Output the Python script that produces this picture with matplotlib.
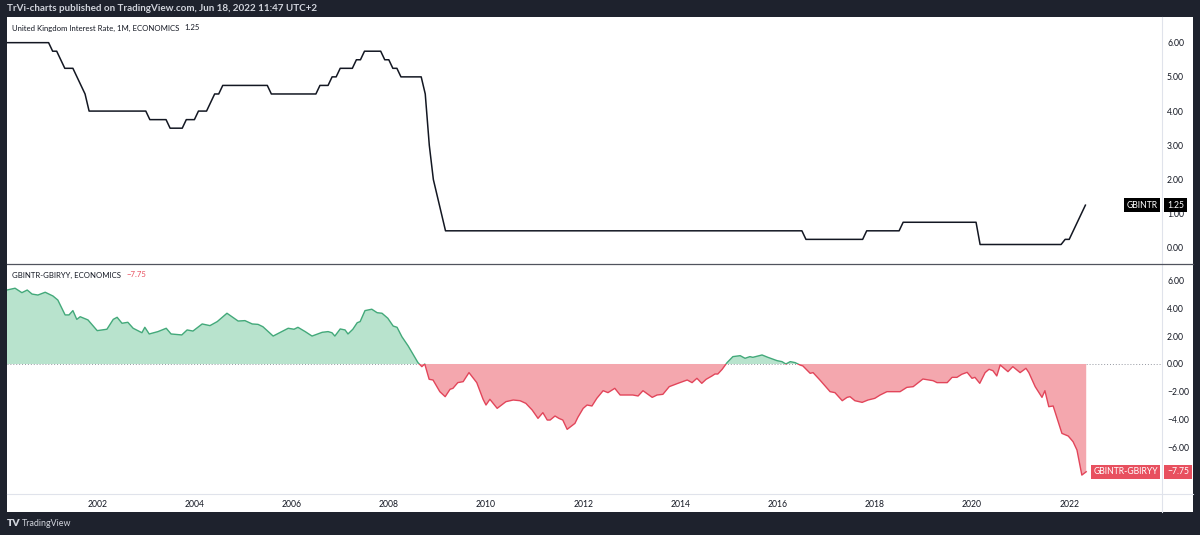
import matplotlib as mpl
import matplotlib.pyplot as plt
import numpy as np
import pandas as pd
from matplotlib.lines import Line2D
from matplotlib.patches import Rectangle
from matplotlib.ticker import FixedLocator, FuncFormatter

mpl.rcParams.update({
    "font.family": ["Lato", "DejaVu Sans"],
    "axes.unicode_minus": True,
})

# ---- data -----------------------------------------------------------------
# UK bank rate: month of change -> new rate (monthly series, ECONOMICS 1M)
RATE_CHANGE_MONTHS = [
    "2000-01", "2001-02", "2001-04", "2001-05", "2001-08", "2001-09", "2001-10",
    "2001-11", "2003-02", "2003-07", "2003-11", "2004-02", "2004-05", "2004-06",
    "2004-08", "2005-08", "2006-08", "2006-11", "2007-01", "2007-05", "2007-07",
    "2007-12", "2008-02", "2008-04", "2008-10", "2008-11", "2008-12", "2009-01",
    "2009-02", "2009-03", "2016-08", "2017-11", "2018-08", "2020-03", "2021-12",
    "2022-02", "2022-03", "2022-04", "2022-05",
]
RATE_VALUES = [
    6.00, 5.75, 5.50, 5.25, 5.00, 4.75, 4.50,
    4.00, 3.75, 3.50, 3.75, 4.00, 4.25, 4.50,
    4.75, 4.50, 4.75, 5.00, 5.25, 5.50, 5.75,
    5.50, 5.25, 5.00, 4.50, 3.00, 2.00, 1.50,
    1.00, 0.50, 0.25, 0.50, 0.75, 0.10, 0.25,
    0.50, 0.75, 1.00, 1.25,
]
RATE_LAST_MONTH = "2022-05"

SPREAD_T = [
    2000.14, 2000.31, 2000.45, 2000.56, 2000.66, 2000.78, 2000.93, 2001.09,
    2001.19, 2001.34, 2001.42, 2001.50, 2001.58, 2001.65, 2001.81, 2002.00,
    2002.20, 2002.33, 2002.41, 2002.51, 2002.63, 2002.74, 2002.92, 2002.98,
    2003.07, 2003.25, 2003.42, 2003.52, 2003.74, 2003.85, 2003.97, 2004.16,
    2004.32, 2004.47, 2004.67, 2004.90, 2005.04, 2005.19, 2005.31, 2005.41,
    2005.62, 2005.80, 2005.93, 2006.05, 2006.13, 2006.28, 2006.42, 2006.63,
    2006.75, 2006.83, 2006.89, 2007.00, 2007.10, 2007.16, 2007.26, 2007.35,
    2007.41, 2007.51, 2007.65, 2007.76, 2007.86, 2007.98, 2008.09, 2008.17,
    2008.27, 2008.40, 2008.60, 2008.68, 2008.74, 2008.83, 2008.91, 2009.05,
    2009.16, 2009.26, 2009.32, 2009.42, 2009.53, 2009.65, 2009.81, 2009.94,
    2010.00, 2010.08, 2010.23, 2010.41, 2010.56, 2010.70, 2010.82, 2010.95,
    2011.07, 2011.17, 2011.26, 2011.32, 2011.42, 2011.50, 2011.58, 2011.67,
    2011.83, 2011.89, 2012.00, 2012.08, 2012.18, 2012.28, 2012.41, 2012.51,
    2012.65, 2012.76, 2013.02, 2013.13, 2013.23, 2013.42, 2013.52, 2013.64,
    2013.77, 2013.95, 2014.14, 2014.24, 2014.34, 2014.44, 2014.53, 2014.65,
    2014.71, 2014.77, 2014.86, 2014.96, 2015.08, 2015.23, 2015.33, 2015.43,
    2015.49, 2015.68, 2015.80, 2015.99, 2016.09, 2016.17, 2016.26, 2016.36,
    2016.46, 2016.52, 2016.67, 2016.73, 2016.87, 2017.08, 2017.18, 2017.33,
    2017.43, 2017.49, 2017.59, 2017.74, 2017.86, 2018.00, 2018.11, 2018.25,
    2018.52, 2018.66, 2018.79, 2018.99, 2019.20, 2019.28, 2019.49, 2019.59,
    2019.69, 2019.79, 2019.90, 2020.00, 2020.06, 2020.16, 2020.27, 2020.35,
    2020.43, 2020.51, 2020.58, 2020.74, 2020.84, 2020.99, 2021.11, 2021.17,
    2021.30, 2021.44, 2021.50, 2021.58, 2021.67, 2021.85, 2021.98, 2022.08,
    2022.16, 2022.26, 2022.35,
]
SPREAD_V = [
    5.32, 5.45, 5.13, 5.32, 5.03, 4.96, 5.16, 4.89,
    4.60, 3.53, 3.53, 3.84, 3.21, 3.40, 3.17, 2.40,
    2.50, 3.21, 3.36, 2.93, 3.00, 2.57, 2.25, 2.64,
    2.16, 2.33, 2.57, 2.16, 2.09, 2.45, 2.37, 2.88,
    2.76, 3.05, 3.65, 3.09, 3.12, 2.88, 2.85, 2.68,
    2.01, 2.33, 2.57, 2.50, 2.64, 2.33, 2.01, 2.28,
    2.33, 2.25, 2.01, 2.52, 2.45, 2.16, 2.50, 2.97,
    3.05, 3.84, 3.94, 3.69, 3.65, 3.29, 2.73, 2.64,
    1.96, 1.29, 0.10, -0.19, 0.00, -1.10, -1.15, -1.99,
    -2.35, -1.82, -1.75, -1.34, -1.27, -0.62, -1.34, -2.54,
    -2.95, -2.54, -3.19, -2.71, -2.59, -2.64, -2.83, -3.31,
    -3.91, -3.50, -4.03, -4.03, -3.74, -3.91, -4.03, -4.70,
    -4.27, -3.84, -3.19, -2.95, -3.02, -2.47, -1.92, -2.06,
    -1.75, -2.23, -2.23, -2.30, -1.92, -2.40, -2.23, -2.18,
    -1.63, -1.39, -1.15, -1.34, -1.03, -1.39, -1.10, -0.86,
    -0.72, -0.72, -0.38, 0.10, 0.53, 0.60, 0.41, 0.53,
    0.48, 0.65, 0.48, 0.24, 0.17, 0.00, 0.17, 0.10,
    -0.07, -0.14, -0.67, -0.62, -1.15, -1.99, -2.06, -2.64,
    -2.40, -2.35, -2.64, -2.76, -2.59, -2.47, -2.23, -1.99,
    -1.99, -1.68, -1.63, -1.08, -1.20, -1.34, -1.34, -0.96,
    -0.96, -0.74, -0.60, -1.03, -0.96, -1.39, -0.62, -0.38,
    -0.48, -0.86, -0.07, -0.55, -0.19, -0.62, -0.31, -0.62,
    -1.63, -2.40, -1.92, -3.07, -3.02, -4.99, -5.18, -5.59,
    -6.19, -7.99, -7.75,
]

YEAR_TICKS = [2002, 2004, 2006, 2008, 2010, 2012, 2014, 2016, 2018, 2020, 2022]
TOP_TICKS = [0, 1, 2, 3, 4, 5, 6]
BOT_TICKS = [-6, -4, -2, 0, 2, 4, 6]

# ---- style ----------------------------------------------------------------
DARK = "#1e222d"
INK = "#131722"
AXIS_LINE = "#e0e3eb"
GREEN_LINE = "#43a97a"
GREEN_FILL = "#b8e3cd"
RED_LINE = "#e2455a"
RED_FILL = "#f4a7ae"
RED_TAG = "#e8505f"
FS = 6.2
FS_LEGEND = 5.6

W, H = 1200, 535


def fx(px):
    return px / W


def fy(py):
    return 1 - py / H


# monthly rate series
months = pd.period_range(RATE_CHANGE_MONTHS[0], RATE_LAST_MONTH, freq="M")
rate = (pd.Series(RATE_VALUES, index=pd.PeriodIndex(RATE_CHANGE_MONTHS, freq="M"))
        .reindex(months).ffill())
rate_t = months.year + (months.month - 1) / 12.0

spread_t = np.array(SPREAD_T)
spread_v = np.array(SPREAD_V)

fig = plt.figure(figsize=(W / 100, H / 100), dpi=100, facecolor=DARK)
fig.add_artist(Rectangle((fx(7), fy(512)), fx(1193) - fx(7), fy(17) - fy(512),
                         transform=fig.transFigure, facecolor="white",
                         edgecolor="none", zorder=0))

ax_top = fig.add_axes([fx(7), fy(264), fx(1162) - fx(7), fy(17) - fy(264)])
ax_bot = fig.add_axes([fx(7), fy(494), fx(1162) - fx(7), fy(265) - fy(494)],
                      sharex=ax_top)

xlim = (2000 + 7 / 48.6, 2000 + 1162 / 48.6)
fmt = FuncFormatter(lambda v, _: f"{v:.2f}".replace("-", "\u2212"))
for ax in (ax_top, ax_bot):
    ax.set_facecolor("white")
    for s in ax.spines.values():
        s.set_visible(False)
    ax.yaxis.tick_right()
    ax.yaxis.set_major_formatter(fmt)
    ax.tick_params(axis="y", length=0, pad=3.6, labelsize=FS, labelcolor=INK)
    ax.tick_params(axis="x", length=0, pad=4.5, labelsize=FS, labelcolor=INK)
    ax.set_xlim(*xlim)

ax_top.set_ylim(-0.47, 6.75)
ax_top.yaxis.set_major_locator(FixedLocator(TOP_TICKS))
ax_top.tick_params(axis="x", labelbottom=False)

ax_bot.set_ylim(-9.35, 7.12)
ax_bot.yaxis.set_major_locator(FixedLocator(BOT_TICKS))
ax_bot.xaxis.set_major_locator(FixedLocator(YEAR_TICKS))
ax_bot.xaxis.set_major_formatter(FuncFormatter(lambda v, _: f"{int(round(v))}"))

# ---- top pane: bank rate ----
ax_top.plot(rate_t, rate.values, color=INK, lw=1.1, solid_joinstyle="round")

# ---- bottom pane: baseline area ----
ax_bot.axhline(0, color="#9598a1", lw=0.7, ls=(0, (1, 2)), zorder=1)
ax_bot.fill_between(spread_t, spread_v, 0, where=spread_v >= 0, interpolate=True,
                    color=GREEN_FILL, lw=0, zorder=2)
ax_bot.fill_between(spread_t, spread_v, 0, where=spread_v <= 0, interpolate=True,
                    color=RED_FILL, lw=0, zorder=2)
g_line, = ax_bot.plot(spread_t, spread_v, color=GREEN_LINE, lw=1.0, zorder=3)
r_line, = ax_bot.plot(spread_t, spread_v, color=RED_LINE, lw=1.0, zorder=3)
g_line.set_clip_path(Rectangle((xlim[0], 0), xlim[1] - xlim[0], 50,
                               transform=ax_bot.transData))
r_line.set_clip_path(Rectangle((xlim[0], -50), xlim[1] - xlim[0], 50,
                               transform=ax_bot.transData))

# ---- pane legends ----
t1 = ax_top.annotate("United Kingdom Interest Rate, 1M, ECONOMICS", xy=(0, 1),
                     xycoords="axes fraction", xytext=(5, -11),
                     textcoords="offset pixels", va="center", ha="left",
                     fontsize=FS_LEGEND, color=INK)
ax_top.annotate(f"{rate.values[-1]:.2f}", xy=(1, 0.5), xycoords=t1,
                xytext=(5, 0), textcoords="offset pixels", va="center",
                ha="left", fontsize=FS_LEGEND, color=INK)
t2 = ax_bot.annotate("GBINTR-GBIRYY, ECONOMICS", xy=(0, 1),
                     xycoords="axes fraction", xytext=(5, -10),
                     textcoords="offset pixels", va="center", ha="left",
                     fontsize=FS_LEGEND, color=INK)
ax_bot.annotate(f"{spread_v[-1]:.2f}".replace("-", "\u2212"), xy=(1, 0.5),
                xycoords=t2, xytext=(5, 0), textcoords="offset pixels",
                va="center", ha="left", fontsize=FS_LEGEND, color=RED_TAG)


# ---- last value tags ----
def tag(ax, value, name, label, color):
    ax.annotate(name, xy=(1, value), xycoords=("axes fraction", "data"),
                xytext=(-4, 0), textcoords="offset pixels", ha="right",
                va="center", fontsize=FS, color="white", annotation_clip=False,
                bbox=dict(boxstyle="square,pad=0.28", fc=color, ec="none"))
    ax.annotate(label, xy=(1, value), xycoords=("axes fraction", "data"),
                xytext=(5, 0), textcoords="offset pixels", ha="left",
                va="center", fontsize=FS, color="white", annotation_clip=False,
                bbox=dict(boxstyle="square,pad=0.3", fc=color, ec="none"))


tag(ax_top, rate.values[-1], "GBINTR", f"{rate.values[-1]:.2f}", "#000000")
tag(ax_bot, spread_v[-1], "GBINTR-GBIRYY",
    f"{spread_v[-1]:.2f}".replace("-", "\u2212"), RED_TAG)

# ---- chart chrome ----
fig.add_artist(Line2D([fx(1162), fx(1162)], [fy(17), fy(512)], color=AXIS_LINE,
                      lw=0.8, transform=fig.transFigure))
fig.add_artist(Line2D([fx(7), fx(1193)], [fy(494), fy(494)], color=AXIS_LINE,
                      lw=0.8, transform=fig.transFigure))
fig.add_artist(Line2D([fx(7), fx(1193)], [fy(264.5), fy(264.5)], color="#50535e",
                      lw=0.9, transform=fig.transFigure))

fig.text(fx(7), fy(8.5), "TrVi-charts published on TradingView.com, Jun 18, 2022 11:47 UTC+2",
         color="#d1d4dc", fontsize=7.1, fontweight="bold", va="center", ha="left")
fig.text(fx(7), fy(523.5), "TV", color="#d1d4dc", fontsize=7.5, fontweight="heavy",
         va="center", ha="left")
fig.text(fx(22), fy(523.5), "TradingView", color="#d1d4dc", fontsize=6.4,
         va="center", ha="left")

fig.savefig("out.png", dpi=100, facecolor=DARK)
